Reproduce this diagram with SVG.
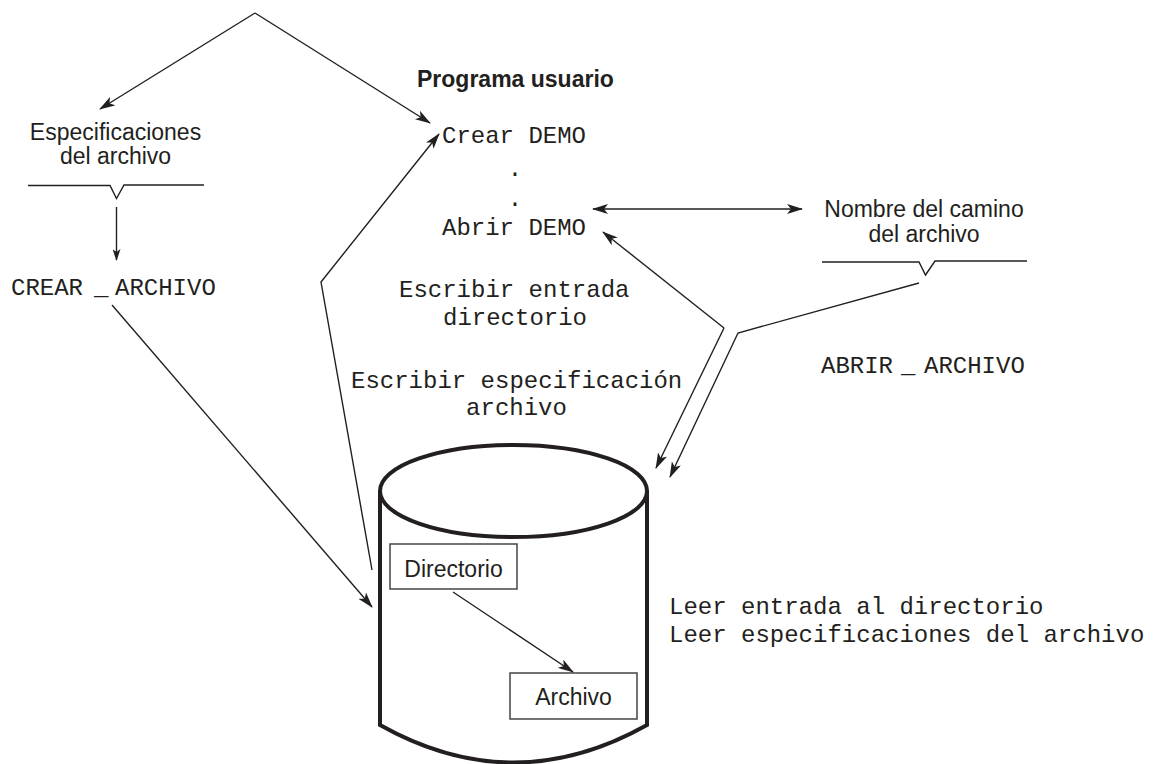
<svg xmlns="http://www.w3.org/2000/svg" width="1155" height="764" viewBox="0 0 1155 764">
<style>
.sans{font-family:"Liberation Sans",Arial,sans-serif;font-size:23px;fill:#231f20}
.bold{font-weight:bold}
.mono{font-family:"Liberation Mono","Courier New",monospace;font-size:24px;fill:#231f20}
.c{text-anchor:middle}
.ln{fill:none;stroke:#231f20;stroke-width:1.4}
.arr{marker-end:url(#ah)}
.box{fill:#fff;stroke:#444;stroke-width:1.5}
.cyl{fill:#fff;stroke:#231f20;stroke-width:4}
</style>
<defs>
<marker id="ah" markerUnits="userSpaceOnUse" viewBox="0 0 16 10" refX="15" refY="5" markerWidth="16" markerHeight="10" orient="auto-start-reverse">
<path d="M0,0 L16,5 L0,10 L4,5 z" fill="#231f20"/>
</marker>
<marker id="ahs" markerUnits="userSpaceOnUse" viewBox="0 0 12 8" refX="11" refY="4" markerWidth="12" markerHeight="8" orient="auto">
<path d="M0,0 L12,4 L0,8 L3,4 z" fill="#231f20"/>
</marker>
</defs>
<rect width="1155" height="764" fill="#fff"/>

<g id="cilindro">
<path class="cyl" d="M380,491 L380,725 Q513.5,800 647,725 L647,491"/>
<ellipse class="cyl" cx="513.5" cy="491" rx="133.5" ry="46"/>
</g>

<g id="directorio">
<rect class="box" x="390" y="544" width="127" height="45"/>
<text class="sans c" x="453.5" y="577">Directorio</text>
</g>
<g id="archivo">
<rect class="box" x="510" y="673" width="127" height="46"/>
<text class="sans c" x="573.5" y="705">Archivo</text>
</g>

<g id="especificaciones">
<text class="sans c" x="115.5" y="140">Especificaciones</text>
<text class="sans c" x="115.5" y="164">del archivo</text>
<path class="ln" d="M28,185.5 L110,185.5 L116.5,198.5 L124,185 L204,185" stroke-width="1.6"/>
</g>

<g id="crear-archivo">
<text class="mono" y="295"><tspan x="11">CREAR</tspan><tspan x="94">_</tspan><tspan x="115">ARCHIVO</tspan></text>
</g>

<g id="programa-usuario">
<text class="sans bold" x="417" y="87">Programa usuario</text>
<text class="mono" x="442" y="143">Crear DEMO</text>
<text class="mono c" x="515" y="176">.</text>
<text class="mono c" x="515" y="206">.</text>
<text class="mono" x="442" y="235">Abrir DEMO</text>
</g>

<g id="nombre-camino">
<text class="sans c" x="924" y="217">Nombre del camino</text>
<text class="sans c" x="924" y="242">del archivo</text>
<path class="ln" d="M822,262 L919,262 L925.5,275 L935,261 L1027,261" stroke-width="1.6"/>
</g>

<g id="abrir-archivo">
<text class="mono" y="373"><tspan x="821">ABRIR</tspan><tspan x="901">_</tspan><tspan x="924">ARCHIVO</tspan></text>
</g>

<g id="escribir-entrada">
<text class="mono" x="399" y="297">Escribir entrada</text>
<text class="mono c" x="515" y="325">directorio</text>
</g>
<g id="escribir-especificacion">
<text class="mono" x="351" y="388">Escribir especificación</text>
<text class="mono c" x="516.5" y="415">archivo</text>
</g>
<g id="leer">
<text class="mono" x="669" y="614">Leer entrada al directorio</text>
<text class="mono" x="669" y="642">Leer especificaciones del archivo</text>
</g>

<g id="conectores">
<path class="ln arr" d="M255,13 L100,109"/>
<path class="ln arr" d="M255,13 L430,123"/>
<path class="ln" d="M116.5,207 L116.5,260" marker-end="url(#ahs)"/>
<path class="ln arr" d="M112,305 L372,607"/>
<path class="ln arr" d="M372,570 L321,282 L439,134"/>
<path class="ln arr" d="M593,209 L802,209" marker-start="url(#ah)"/>
<path class="ln arr" d="M724,328 L603,232"/>
<path class="ln arr" d="M724,328 L656,468"/>
<path class="ln arr" d="M919,283 L738,333 L670,477"/>
<path class="ln arr" d="M453,592 L573,672"/>
</g>
</svg>
